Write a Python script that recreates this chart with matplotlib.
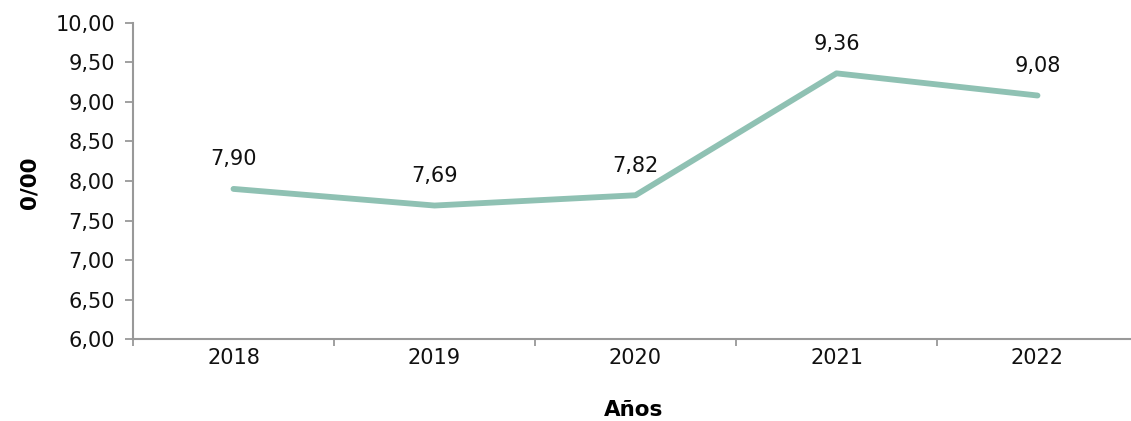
import matplotlib
matplotlib.use("Agg")
import matplotlib.pyplot as plt
from matplotlib.ticker import FuncFormatter

years = ["2018", "2019", "2020", "2021", "2022"]
values = [7.90, 7.69, 7.82, 9.36, 9.08]
y_ticks = [6.0, 6.5, 7.0, 7.5, 8.0, 8.5, 9.0, 9.5, 10.0]

plt.rcParams['font.family'] = ['DejaVu Sans']
W, H = 1131, 421
fig = plt.figure(figsize=(W / 100, H / 100), dpi=100)
left, right, top, bottom = 133, 1138, 22.7, 339.3
ax = fig.add_axes([left / W, 1 - bottom / H, (right - left) / W, (bottom - top) / H])

x = list(range(len(years)))
ax.plot(x, values, color="#8fc1b3", linewidth=4.2, solid_capstyle="round", clip_on=False)
for xi, v in zip(x, values):
    ax.annotate(f"{v:.2f}".replace(".", ","), (xi, v), xytext=(0, 14), textcoords="offset points",
                ha="center", va="bottom", fontsize=15, color="#111111")

ax.set_xlim(-0.5, len(years) - 0.5)
ax.set_ylim(6.0, 10.0)
ax.set_yticks(y_ticks)
ax.yaxis.set_major_formatter(FuncFormatter(lambda v, p: f"{v:.2f}".replace(".", ",")))
ax.set_xticks([i + 0.5 for i in range(-1, len(years))])
ax.set_xticklabels([])
ax.set_xticks(x, minor=True)
ax.set_xticklabels(years, minor=True)
ax.tick_params(axis="x", which="minor", length=0, pad=6, labelsize=15, labelcolor="#111111")
ax.tick_params(axis="x", which="major", length=5, width=1.3, color="#999999", direction="out")
ax.tick_params(axis="y", length=6, width=1.3, color="#999999", direction="out", pad=7,
               labelsize=15, labelcolor="#111111")

for s in ["top", "right"]:
    ax.spines[s].set_visible(False)
for s in ["left", "bottom"]:
    ax.spines[s].set_color("#999999")
    ax.spines[s].set_linewidth(1.5)

fig.text(30 / W, 1 - 183 / H, "0/00", rotation=90, ha="center", va="center",
         fontsize=15.5, fontweight="bold")
fig.text(634 / W, 1 - 410 / H, "Años", ha="center", va="center", fontsize=15.5, fontweight="bold")

fig.savefig("out.png", dpi=100)
